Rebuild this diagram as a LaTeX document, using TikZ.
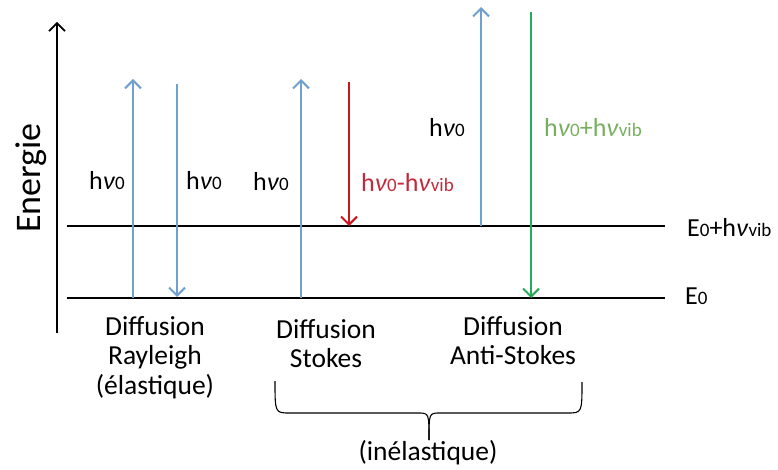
\documentclass[tikz,border=0pt]{standalone}
\usepackage{fontspec}
\setmainfont{Carlito}
\usepackage{xcolor}
\usetikzlibrary{arrows.meta}

\definecolor{photonblue}{RGB}{112,161,206}
\definecolor{stokesred}{RGB}{204,20,30}
\definecolor{stokestext}{RGB}{196,40,60}
\definecolor{antigreen}{RGB}{40,170,90}
\definecolor{antitext}{RGB}{120,175,95}

\newcommand{\hnu}[1]{h\textit{ν}{\fontsize{19}{19}\selectfont #1}}

\tikzset{
  photon/.style={line width=2.2pt, -{Straight Barb[length=8pt,width=16pt,line width=2pt]}},
  level/.style={line width=1.2pt},
  lbl/.style={font=\fontsize{26}{30}\selectfont, inner sep=0pt},
  proc/.style={font=\fontsize{27.5}{29.5}\selectfont, align=center, anchor=north, inner sep=0pt}
}

\begin{document}
\begin{tikzpicture}[x=1pt, y=-1pt]
        \useasboundingbox (0,0) rectangle (778,470);

        % axe d'energie
        \coordinate (axebas) at (57,333);
        \coordinate (axehaut) at (57,22);
        \draw[line width=1.6pt, -{Straight Barb[length=8pt,width=16pt,line width=1.6pt]}] (axebas) -- (axehaut);
        \node[rotate=90, font=\fontsize{36}{40}\selectfont, inner sep=0pt] (energie) at (31,178) {Energie};

        % niveaux
        \coordinate (vibG) at (67,226);
        \coordinate (vibD) at (665,226);
        \coordinate (fondG) at (67,298);
        \coordinate (fondD) at (665,298);
        \draw[level] (vibG) -- (vibD);
        \draw[level] (fondG) -- (fondD);
        \node[lbl, anchor=west] (Evib) at (687,228) {E{\fontsize{19}{19}\selectfont 0}+\hnu{vib}};
        \node[lbl, anchor=west] (Efond) at (685,296) {E{\fontsize{19}{19}\selectfont 0}};

        % Rayleigh
        \coordinate (r1a) at (133,298);
        \coordinate (r1b) at (133,79);
        \coordinate (r2a) at (177,84);
        \coordinate (r2b) at (177,297);
        \draw[photon, photonblue] (r1a) -- (r1b);
        \draw[photon, photonblue] (r2a) -- (r2b);
        \node[lbl] (hr1) at (107,181) {\hnu{0}};
        \node[lbl] (hr2) at (204,181) {\hnu{0}};

        % Stokes
        \coordinate (s1a) at (301,298);
        \coordinate (s1b) at (301,79);
        \coordinate (s2a) at (349,82);
        \coordinate (s2b) at (349,226);
        \draw[photon, photonblue] (s1a) -- (s1b);
        \draw[photon, stokesred] (s2a) -- (s2b);
        \node[lbl] (hs1) at (271,182) {\hnu{0}};
        \node[lbl, text=stokestext, anchor=west] (hs2) at (361,183) {\hnu{0}-\hnu{vib}};

        % Anti-Stokes
        \coordinate (a1a) at (481,226);
        \coordinate (a1b) at (481,7);
        \coordinate (a2a) at (531,12);
        \coordinate (a2b) at (531,298);
        \draw[photon, photonblue] (a1a) -- (a1b);
        \draw[photon, antigreen] (a2a) -- (a2b);
        \node[lbl] (ha1) at (447,128) {\hnu{0}};
        \node[lbl, text=antitext, anchor=west] (ha2) at (544,128) {\hnu{0}+\hnu{vib}};

        % types de diffusion
        \node[proc] (rayleigh) at (155,316) {Diffusion\\Rayleigh\\(élastique)};
        \node[proc] (stokes) at (326,319) {Diffusion\\Stokes};
        \node[proc] (antistokes) at (513,316) {Diffusion\\Anti-Stokes};

        % accolade
        \coordinate (accG) at (275,381);
        \coordinate (accD) at (582,382);
        \coordinate (pointe) at (429,440);
        \draw[line width=1.1pt] (accG) .. controls (275,413) .. (290,413) -- (418,413)
              .. controls (429,413) .. (pointe);
        \draw[line width=1.1pt] (accD) .. controls (582,413) .. (567,413) -- (440,413)
              .. controls (429,413) .. (pointe);
        \node[proc, anchor=center] (inelast) at (428,453) {(inélastique)};
    \end{tikzpicture}
\end{document}
